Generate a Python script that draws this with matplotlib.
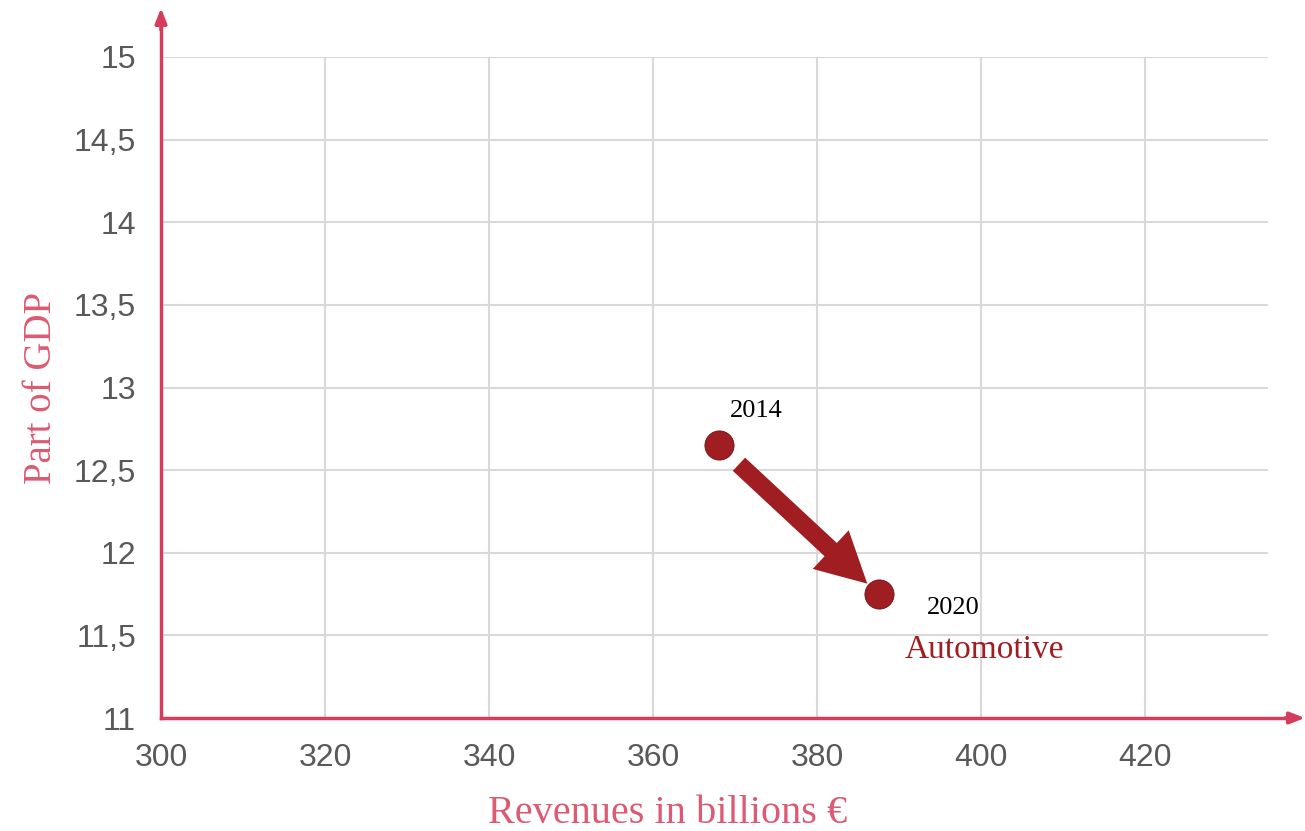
import matplotlib.pyplot as plt
import matplotlib.ticker as mticker

# revenues (billions EUR) vs part of GDP, automotive sector
years = ['2014', '2020']
revenues = [368.0, 387.5]
gdp_share = [12.65, 11.75]
sector = 'Automotive'

x_ticks = [300, 320, 340, 360, 380, 400, 420]
y_ticks = [11, 11.5, 12, 12.5, 13, 13.5, 14, 14.5, 15]

axis_col = '#d63c5c'
label_col = '#dc5a72'
dot_col = '#a01e22'
grid_col = '#d9d9d9'
tick_col = '#595959'

fig = plt.figure(figsize=(13.05, 8.31), dpi=100)
W, H = 1305, 831
ax = fig.add_axes([161 / W, 113 / H, (1268 - 161) / W, (718 - 57) / H])
ax.set_xlim(300, 435)
ax.set_ylim(11, 15)

ax.set_xticks(x_ticks)
ax.set_yticks(y_ticks)
fmt = mticker.FuncFormatter(lambda v, p: ('%g' % v).replace('.', ','))
ax.yaxis.set_major_formatter(fmt)
ax.tick_params(length=0, labelsize=23, colors=tick_col)
for lab in ax.get_xticklabels() + ax.get_yticklabels():
    lab.set_family('Liberation Sans')
ax.tick_params(axis='x', pad=18)
ax.tick_params(axis='y', pad=18)

ax.grid(True, color=grid_col, lw=1.5)
ax.set_axisbelow(True)
for s in ax.spines.values():
    s.set_visible(False)

# axis lines with arrowheads, drawn in figure coords
fig.add_artist(plt.Line2D([161 / W, 161 / W], [113 / H, 1 - 22 / H], color=axis_col, lw=2.5))
fig.add_artist(plt.Line2D([161 / W, 1 - 12 / W], [113 / H, 113 / H], color=axis_col, lw=2.5))
ax.annotate('', xy=(161 / W, 1 - 8 / H), xytext=(161 / W, 1 - 30 / H), xycoords='figure fraction',
            textcoords='figure fraction',
            arrowprops=dict(arrowstyle='-|>,head_length=0.9,head_width=0.35', color=axis_col, lw=2.5,
                            shrinkA=0, shrinkB=0), annotation_clip=False)
ax.annotate('', xy=(1 - 0 / W, 113 / H), xytext=(1 - 20 / W, 113 / H), xycoords='figure fraction',
            textcoords='figure fraction',
            arrowprops=dict(arrowstyle='-|>,head_length=0.9,head_width=0.35', color=axis_col, lw=2.5,
                            shrinkA=0, shrinkB=0), annotation_clip=False)

ax.set_xlabel('Revenues in billions €', fontsize=29, color=label_col, family='Liberation Serif')
ax.xaxis.set_label_coords(0.458, -0.116)
ax.set_ylabel('Part of GDP', fontsize=28, color=label_col, family='Liberation Serif', labelpad=10)

# arrow between the two years
ax.annotate('', xy=(revenues[1], gdp_share[1]), xytext=(revenues[0], gdp_share[0]),
            arrowprops=dict(arrowstyle='simple,head_length=36,head_width=38,tail_width=13',
                            mutation_scale=1, color=dot_col, shrinkA=20, shrinkB=11, lw=0))

ax.plot(revenues, gdp_share, 'o', ms=21, color=dot_col, mec='#6e1215', mew=0.6, zorder=5)

ax.annotate(years[0], (revenues[0], gdp_share[0]), xytext=(27, 25), textcoords='offset points',
            ha='center', va='center', fontsize=19, family='Liberation Serif', color='black')
ax.annotate(years[1], (revenues[1], gdp_share[1]), xytext=(54, -10), textcoords='offset points',
            ha='center', va='center', fontsize=19, family='Liberation Serif', color='black')
ax.annotate(sector, (revenues[1], gdp_share[1]), xytext=(76, -40), textcoords='offset points',
            ha='center', va='center', fontsize=24, family='Liberation Serif', color=dot_col)

fig.savefig('out.png', dpi=100)
